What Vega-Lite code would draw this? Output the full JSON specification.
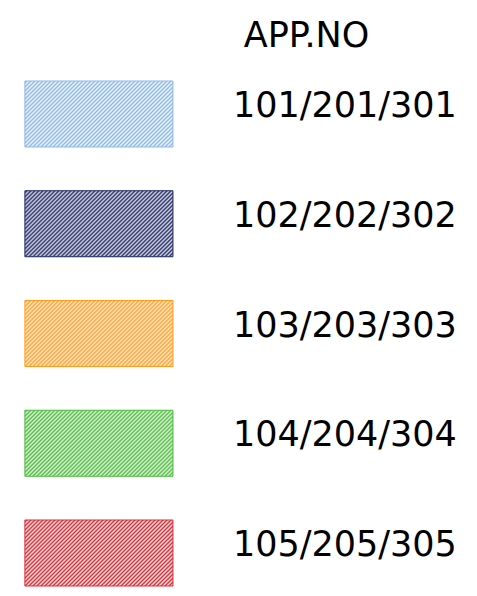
{
  "$schema": "https://vega.github.io/schema/vega-lite/v6.json",
  "width": 477,
  "height": 596,
  "autosize": {"type": "fit", "contains": "padding"},
  "padding": {"left": 0, "right": 0, "top": 19, "bottom": 0},
  "background": "white",
  "title": {"text": "APP.NO", "font": "DejaVu Sans", "fontSize": 35, "fontWeight": "normal", "color": "black", "anchor": "middle", "dx": 68, "offset": 9},
  "config": {"view": {"stroke": null}},
  "data": {"values": [
    {"app": "101/201/301"},
    {"app": "102/202/302"},
    {"app": "103/203/303"},
    {"app": "104/204/304"},
    {"app": "105/205/305"}
  ]},
  "encoding": {
    "y": {"field": "app", "type": "nominal", "axis": null, "sort": null,
          "scale": {"paddingInner": 0.3986, "paddingOuter": 0.1276, "align": 0.643}}
  },
  "layer": [
    {
      "mark": {"type": "rect"},
      "encoding": {
        "x": {"datum": "swatch", "type": "nominal", "axis": null,
              "scale": {"domain": ["swatch", "label"], "paddingInner": 0.398, "paddingOuter": 0.1687, "align": 0.3}},
        "fill": {"field": "app", "type": "nominal", "legend": null,
                 "scale": {"domain": ["101/201/301", "102/202/302", "103/203/303", "104/204/304", "105/205/305"],
                           "range": ["#8fb9e6", "#1f2a66", "#ff9c1f", "#4cbc3c", "#dc2f37"]}}
      }
    },
    {
      "mark": {"type": "rect", "strokeWidth": 1,
        "fill": {"gradient": "linear", "x1": 0, "y1": 0, "x2": 1.206, "y2": 0.538, "stops": [
          {"offset": 0, "color": "rgba(255,255,255,0.85)"}, {"offset": 0.00935, "color": "rgba(255,255,255,0)"},
          {"offset": 0.0187, "color": "rgba(255,255,255,0.85)"}, {"offset": 0.02805, "color": "rgba(255,255,255,0)"},
          {"offset": 0.0374, "color": "rgba(255,255,255,0.85)"}, {"offset": 0.04675, "color": "rgba(255,255,255,0)"},
          {"offset": 0.0561, "color": "rgba(255,255,255,0.85)"}, {"offset": 0.06545, "color": "rgba(255,255,255,0)"},
          {"offset": 0.0748, "color": "rgba(255,255,255,0.85)"}, {"offset": 0.08415, "color": "rgba(255,255,255,0)"},
          {"offset": 0.0935, "color": "rgba(255,255,255,0.85)"}, {"offset": 0.10285, "color": "rgba(255,255,255,0)"},
          {"offset": 0.1122, "color": "rgba(255,255,255,0.85)"}, {"offset": 0.12155, "color": "rgba(255,255,255,0)"},
          {"offset": 0.1309, "color": "rgba(255,255,255,0.85)"}, {"offset": 0.14025, "color": "rgba(255,255,255,0)"},
          {"offset": 0.1496, "color": "rgba(255,255,255,0.85)"}, {"offset": 0.15895, "color": "rgba(255,255,255,0)"},
          {"offset": 0.1683, "color": "rgba(255,255,255,0.85)"}, {"offset": 0.17765, "color": "rgba(255,255,255,0)"},
          {"offset": 0.187, "color": "rgba(255,255,255,0.85)"}, {"offset": 0.19635, "color": "rgba(255,255,255,0)"},
          {"offset": 0.2057, "color": "rgba(255,255,255,0.85)"}, {"offset": 0.21505, "color": "rgba(255,255,255,0)"},
          {"offset": 0.2244, "color": "rgba(255,255,255,0.85)"}, {"offset": 0.23375, "color": "rgba(255,255,255,0)"},
          {"offset": 0.2431, "color": "rgba(255,255,255,0.85)"}, {"offset": 0.25245, "color": "rgba(255,255,255,0)"},
          {"offset": 0.2618, "color": "rgba(255,255,255,0.85)"}, {"offset": 0.27115, "color": "rgba(255,255,255,0)"},
          {"offset": 0.2805, "color": "rgba(255,255,255,0.85)"}, {"offset": 0.28985, "color": "rgba(255,255,255,0)"},
          {"offset": 0.2992, "color": "rgba(255,255,255,0.85)"}, {"offset": 0.30855, "color": "rgba(255,255,255,0)"},
          {"offset": 0.3179, "color": "rgba(255,255,255,0.85)"}, {"offset": 0.32725, "color": "rgba(255,255,255,0)"},
          {"offset": 0.3366, "color": "rgba(255,255,255,0.85)"}, {"offset": 0.34595, "color": "rgba(255,255,255,0)"},
          {"offset": 0.3553, "color": "rgba(255,255,255,0.85)"}, {"offset": 0.36465, "color": "rgba(255,255,255,0)"},
          {"offset": 0.374, "color": "rgba(255,255,255,0.85)"}, {"offset": 0.38335, "color": "rgba(255,255,255,0)"},
          {"offset": 0.3927, "color": "rgba(255,255,255,0.85)"}, {"offset": 0.40205, "color": "rgba(255,255,255,0)"},
          {"offset": 0.4114, "color": "rgba(255,255,255,0.85)"}, {"offset": 0.42075, "color": "rgba(255,255,255,0)"},
          {"offset": 0.4301, "color": "rgba(255,255,255,0.85)"}, {"offset": 0.43945, "color": "rgba(255,255,255,0)"},
          {"offset": 0.4488, "color": "rgba(255,255,255,0.85)"}, {"offset": 0.45815, "color": "rgba(255,255,255,0)"},
          {"offset": 0.4675, "color": "rgba(255,255,255,0.85)"}, {"offset": 0.47685, "color": "rgba(255,255,255,0)"},
          {"offset": 0.4862, "color": "rgba(255,255,255,0.85)"}, {"offset": 0.49555, "color": "rgba(255,255,255,0)"},
          {"offset": 0.5049, "color": "rgba(255,255,255,0.85)"}, {"offset": 0.51425, "color": "rgba(255,255,255,0)"},
          {"offset": 0.5236, "color": "rgba(255,255,255,0.85)"}, {"offset": 0.53295, "color": "rgba(255,255,255,0)"},
          {"offset": 0.5423, "color": "rgba(255,255,255,0.85)"}, {"offset": 0.55165, "color": "rgba(255,255,255,0)"},
          {"offset": 0.561, "color": "rgba(255,255,255,0.85)"}, {"offset": 0.57035, "color": "rgba(255,255,255,0)"},
          {"offset": 0.5797, "color": "rgba(255,255,255,0.85)"}, {"offset": 0.58905, "color": "rgba(255,255,255,0)"},
          {"offset": 0.5984, "color": "rgba(255,255,255,0.85)"}, {"offset": 0.60775, "color": "rgba(255,255,255,0)"},
          {"offset": 0.6171, "color": "rgba(255,255,255,0.85)"}, {"offset": 0.62645, "color": "rgba(255,255,255,0)"},
          {"offset": 0.6358, "color": "rgba(255,255,255,0.85)"}, {"offset": 0.64515, "color": "rgba(255,255,255,0)"},
          {"offset": 0.6545, "color": "rgba(255,255,255,0.85)"}, {"offset": 0.66385, "color": "rgba(255,255,255,0)"},
          {"offset": 0.6732, "color": "rgba(255,255,255,0.85)"}, {"offset": 0.68255, "color": "rgba(255,255,255,0)"},
          {"offset": 0.6919, "color": "rgba(255,255,255,0.85)"}, {"offset": 0.70125, "color": "rgba(255,255,255,0)"},
          {"offset": 0.7106, "color": "rgba(255,255,255,0.85)"}, {"offset": 0.71995, "color": "rgba(255,255,255,0)"},
          {"offset": 0.7293, "color": "rgba(255,255,255,0.85)"}, {"offset": 0.73865, "color": "rgba(255,255,255,0)"},
          {"offset": 0.748, "color": "rgba(255,255,255,0.85)"}, {"offset": 0.75735, "color": "rgba(255,255,255,0)"},
          {"offset": 0.7667, "color": "rgba(255,255,255,0.85)"}, {"offset": 0.77605, "color": "rgba(255,255,255,0)"},
          {"offset": 0.7854, "color": "rgba(255,255,255,0.85)"}, {"offset": 0.79475, "color": "rgba(255,255,255,0)"},
          {"offset": 0.8041, "color": "rgba(255,255,255,0.85)"}, {"offset": 0.81345, "color": "rgba(255,255,255,0)"},
          {"offset": 0.8228, "color": "rgba(255,255,255,0.85)"}, {"offset": 0.83215, "color": "rgba(255,255,255,0)"},
          {"offset": 0.8415, "color": "rgba(255,255,255,0.85)"}, {"offset": 0.85085, "color": "rgba(255,255,255,0)"},
          {"offset": 0.8602, "color": "rgba(255,255,255,0.85)"}, {"offset": 0.86955, "color": "rgba(255,255,255,0)"},
          {"offset": 0.8789, "color": "rgba(255,255,255,0.85)"}, {"offset": 0.88825, "color": "rgba(255,255,255,0)"},
          {"offset": 0.8976, "color": "rgba(255,255,255,0.85)"}, {"offset": 0.90695, "color": "rgba(255,255,255,0)"},
          {"offset": 0.9163, "color": "rgba(255,255,255,0.85)"}, {"offset": 0.92565, "color": "rgba(255,255,255,0)"},
          {"offset": 0.935, "color": "rgba(255,255,255,0.85)"}, {"offset": 0.94435, "color": "rgba(255,255,255,0)"},
          {"offset": 0.9537, "color": "rgba(255,255,255,0.85)"}, {"offset": 0.96305, "color": "rgba(255,255,255,0)"},
          {"offset": 0.9724, "color": "rgba(255,255,255,0.85)"}, {"offset": 0.98175, "color": "rgba(255,255,255,0)"},
          {"offset": 0.9911, "color": "rgba(255,255,255,0.85)"}, {"offset": 1, "color": "rgba(255,255,255,0)"}
        ]}},
      "encoding": {
        "x": {"datum": "swatch", "type": "nominal", "axis": null},
        "stroke": {"field": "app", "type": "nominal", "legend": null,
                   "scale": {"domain": ["101/201/301", "102/202/302", "103/203/303", "104/204/304", "105/205/305"],
                             "range": ["#8fb9e6", "#1f2a66", "#ff9c1f", "#4cbc3c", "#dc2f37"]}}
      }
    },
    {
      "mark": {"type": "text", "font": "DejaVu Sans", "fontSize": 35, "align": "center", "baseline": "middle", "dy": -8, "color": "black"},
      "encoding": {
        "x": {"datum": "label", "type": "nominal", "axis": null},
        "text": {"field": "app", "type": "nominal"}
      }
    }
  ]
}
